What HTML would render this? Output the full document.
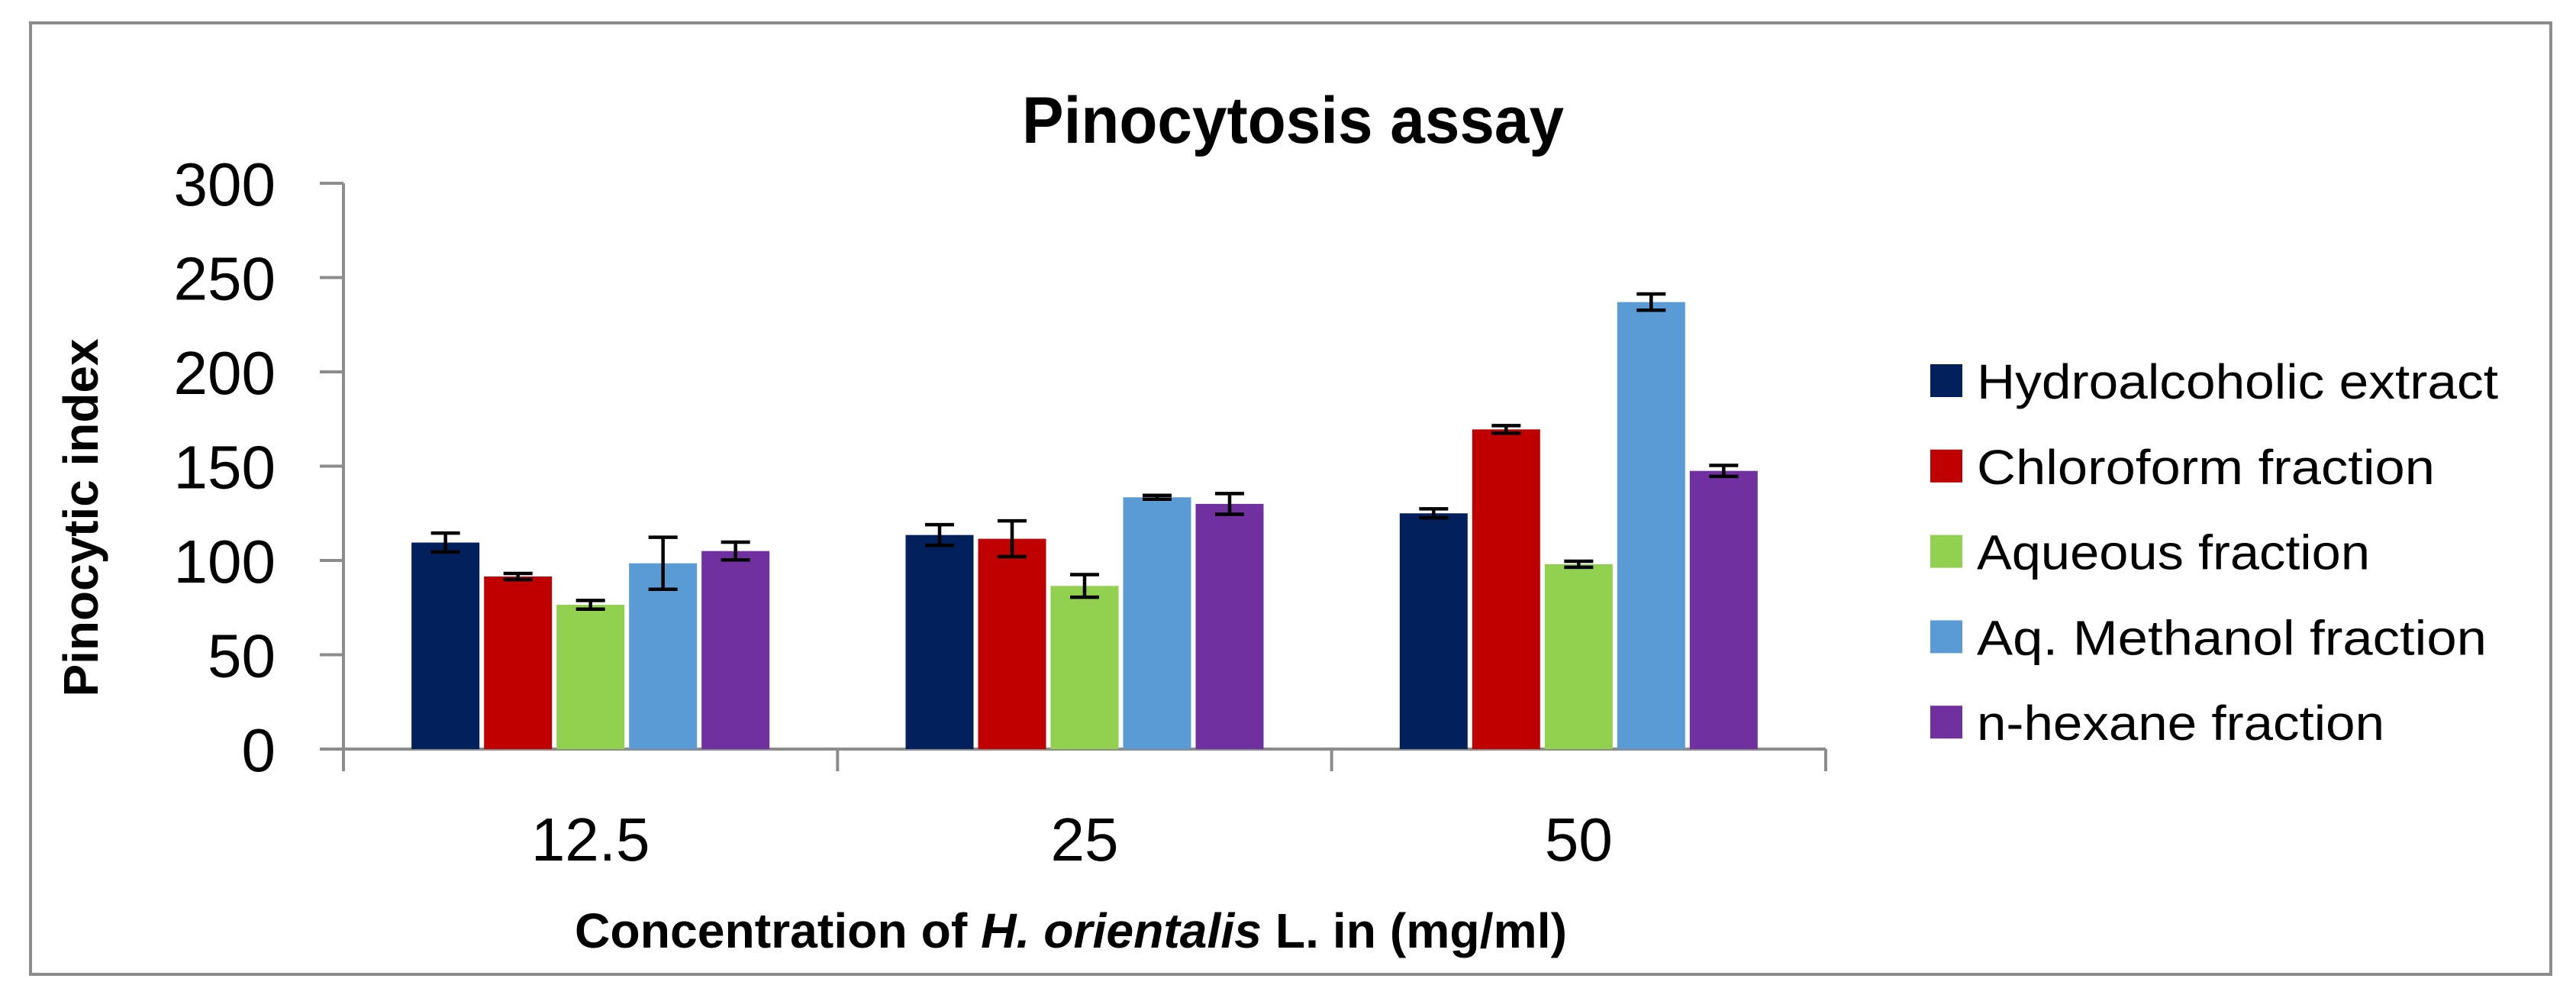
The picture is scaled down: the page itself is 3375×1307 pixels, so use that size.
<!DOCTYPE html>
<html><head><meta charset="utf-8"><style>html,body{margin:0;padding:0;background:#fff}svg{display:block}</style></head>
<body>
<svg id="chart" width="3375" height="1307" viewBox="0 0 3375 1307" xmlns="http://www.w3.org/2000/svg" font-family="'Liberation Sans', sans-serif">
<rect x="40" y="30" width="3302" height="1246" fill="#fff" stroke="#8c8c8c" stroke-width="4"/>
<text x="1694" y="187" text-anchor="middle" font-size="86" font-weight="bold" textLength="710" lengthAdjust="spacingAndGlyphs">Pinocytosis assay</text>
<text transform="translate(128,678) rotate(-90)" text-anchor="middle" font-size="64" font-weight="bold" textLength="469" lengthAdjust="spacingAndGlyphs">Pinocytic index</text>
<text x="1403" y="1241" text-anchor="middle" font-size="64" font-weight="bold" textLength="1300" lengthAdjust="spacingAndGlyphs">Concentration of <tspan font-style="italic">H. orientalis</tspan> L. in (mg/ml)</text>
<g id="axes"></g><g id="bars"></g><g id="legend"></g>
</svg>
<script>
const categories = ["12.5","25","50"];
const seriesNames = ["Hydroalcoholic extract","Chloroform fraction","Aqueous fraction","Aq. Methanol fraction","n-hexane fraction"];
const hydroalcoholic = [109.5,113.5,125];
const chloroform = [91.5,111.5,169.5];
const aqueous = [76.5,86.5,98];
const aqMethanol = [98.5,133.5,237];
const nHexane = [105,130,147.5];
const hydroalcoholicErr = [5,5.5,2.4];
const chloroformErr = [1.6,9.5,2];
const aqueousErr = [2.3,6,1.6];
const aqMethanolErr = [13.8,1,4.3];
const nHexaneErr = [4.7,5.5,2.9];
const yTicks = [0,50,100,150,200,250,300];
const colors = ["#02205c","#c00000","#92d050","#5b9bd5","#7030a0"];
const legendWidths = [683,600,515,668,534];

const NS="http://www.w3.org/2000/svg";
const X0=450,X1=2392,Y0=981,YMAX=300,PX=(981-240)/300;
const catW=(X1-X0)/categories.length;
const y=v=>Y0-v*PX;
const xCat=i=>X0+catW*(i+0.5);
const barW=89,pitch=95;
function mk(tag,attrs,parent){const e=document.createElementNS(NS,tag);for(const k in attrs)e.setAttribute(k,attrs[k]);parent.appendChild(e);return e;}
const axes=document.getElementById('axes'),bars=document.getElementById('bars'),legend=document.getElementById('legend');
const series=[hydroalcoholic,chloroform,aqueous,aqMethanol,nHexane];
const errs=[hydroalcoholicErr,chloroformErr,aqueousErr,aqMethanolErr,nHexaneErr];

series.forEach((vals,s)=>{
  vals.forEach((v,i)=>{
    const cx=xCat(i)+(s-2)*pitch;
    const r=mk('rect',{x:cx-barW/2,y:y(v),width:barW,height:Y0-y(v),fill:colors[s]},bars);
    
    
    const e=errs[s][i];
    const g=mk('g',{stroke:'#000','stroke-width':4.5},bars);
    
    
    mk('line',{x1:cx,x2:cx,y1:y(v+e),y2:y(v-e)},g);
    mk('line',{x1:cx-19,x2:cx+19,y1:y(v+e),y2:y(v+e)},g);
    mk('line',{x1:cx-19,x2:cx+19,y1:y(v-e),y2:y(v-e)},g);
  });
});

const ya=mk('line',{x1:X0,x2:X0,y1:y(YMAX),y2:Y0,stroke:'#8c8c8c','stroke-width':4},axes);


yTicks.forEach(t=>{
  mk('line',{x1:419,x2:X0,y1:y(t),y2:y(t),stroke:'#8c8c8c','stroke-width':4},axes);
  const tx=mk('text',{x:361,y:y(t)+29,'text-anchor':'end','font-size':80},axes);
  tx.textContent=t;
  
  
});
const xa=mk('line',{x1:X0,x2:X1,y1:Y0,y2:Y0,stroke:'#8c8c8c','stroke-width':4},axes);


for(let i=0;i<=categories.length;i++){mk('line',{x1:X0+catW*i,x2:X0+catW*i,y1:Y0,y2:1010,stroke:'#8c8c8c','stroke-width':4},axes);}
categories.forEach((c,i)=>{
  const tx=mk('text',{x:xCat(i),y:1127,'text-anchor':'middle','font-size':80},axes);
  tx.textContent=c;
  
  
});
seriesNames.forEach((n,s)=>{
  const cy=498+s*111.8;
  const g=mk('g',{},legend);
  
  
  mk('rect',{x:2529,y:cy-21,width:42,height:43,fill:colors[s]},g);
  const t=mk('text',{x:2590,y:cy+24,'font-size':64,textLength:legendWidths[s],lengthAdjust:'spacingAndGlyphs'},g);
  t.textContent=n;
});
</script>
</body></html>
